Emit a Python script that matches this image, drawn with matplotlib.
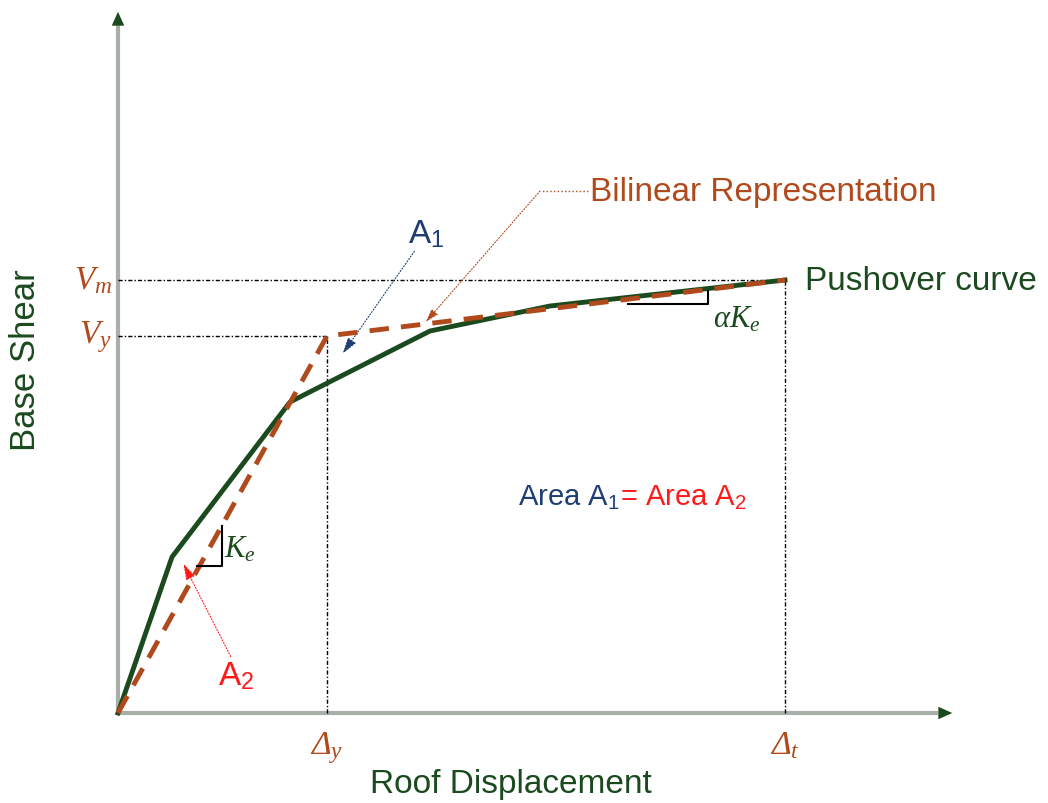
import matplotlib
matplotlib.use("Agg")
import matplotlib.pyplot as plt

plt.rcParams['font.family'] = ['Liberation Sans', 'DejaVu Sans']
# Times-like italic for all math symbols (also the capital Delta)
plt.rcParams['mathtext.fontset'] = 'custom'
plt.rcParams['mathtext.rm'] = 'Liberation Serif:italic'
plt.rcParams['mathtext.it'] = 'Liberation Serif:italic'

# pushover curve (roof displacement, base shear) - arbitrary units
push_x = [0, 5.4, 17.2, 31.2, 43.2, 66.7]
push_y = [0, 15.6, 31.1, 38.2, 40.7, 43.3]

# bilinear idealisation
bil_x = [0, 20.9, 66.7]
bil_y = [0, 37.7, 43.3]

dy, dt = bil_x[1], bil_x[2]
vy, vm = bil_y[1], bil_y[2]

green = '#1b4a1e'
brown = '#b04a1c'
navy = '#1f3f73'
red = '#ff1a1a'
gray = '#a8aea8'

fig = plt.figure(figsize=(10.48, 8.04), dpi=100)
ax = fig.add_axes([0, 0, 1, 1])
ax.set_xlim(-11.8, 93.0)
ax.set_ylim(-9.0, 71.4)
ax.axis('off')

# axes with arrow heads
ax.plot([0, 82.0], [0, 0], color=gray, lw=3, solid_capstyle='butt')
ax.plot([0, 0], [0, 68.8], color=gray, lw=3, solid_capstyle='butt')
ax.annotate('', xy=(83.7, 0), xytext=(81.5, 0),
            arrowprops=dict(arrowstyle='-|>,head_width=0.45,head_length=1.0',
                            color=green, lw=0))
ax.annotate('', xy=(0, 70.4), xytext=(0, 68.4),
            arrowprops=dict(arrowstyle='-|>,head_width=0.45,head_length=1.0',
                            color=green, lw=0))

# reference lines
ref = dict(color='black', lw=1.0, ls=(0, (3, 1.5, 1, 1.5)))
ax.plot([0, dt], [vm, vm], **ref)
ax.plot([dt, dt], [0, vm], **ref)
ax.plot([0, dy], [vy, vy], **ref)
ax.plot([dy, dy], [0, vy], **ref)

# curves
ax.plot(push_x, push_y, color=green, lw=3.5, zorder=3)
ax.plot(bil_x, bil_y, color=brown, lw=3.5, ls=(0, (4, 2.5)), zorder=4)

# slope markers
ax.plot([7.9, 10.4, 10.4], [14.7, 14.7, 18.7], color='black', lw=1.5, zorder=5)
ax.plot([51.0, 59.0, 59.0], [40.9, 40.9, 42.2], color='black', lw=1.5, zorder=5)
ax.text(10.6, 16.4, r'$K_e$', color=green, fontsize=22, va='center', ha='left')
ax.text(59.5, 39.4, r'$\alpha K_e$', color=green, fontsize=22, va='center', ha='left')

# axis value labels
ax.text(-0.6, vm, r'$V_m$', color=brown, fontsize=24, ha='right', va='center')
ax.text(-0.6, vy, r'$V_y$', color=brown, fontsize=24, ha='right', va='center')
ax.text(dy, -1.6, r'$\Delta_y$', color=brown, fontsize=24, ha='center', va='top')
ax.text(dt, -1.6, r'$\Delta_t$', color=brown, fontsize=24, ha='center', va='top')

# axis titles
ax.text(-9.3, 35.4, 'Base Shear', color=green, fontsize=25, rotation=90,
        ha='center', va='center')
ax.text(39.3, -7.1, 'Roof Displacement', color=green, fontsize=24,
        ha='center', va='center')

# annotations
ax.text(68.7, 43.2, 'Pushover curve', color=green, fontsize=24,
        ha='left', va='center')
ax.text(47.2, 52.2, 'Bilinear Representation', color=brown, fontsize=24,
        ha='left', va='center')
ax.plot([47.0, 42.2], [52.2, 52.2], color=brown, lw=1, ls=':')
ax.annotate('', xy=(30.6, 38.9), xytext=(42.2, 52.2),
            arrowprops=dict(arrowstyle='-|>,head_width=0.25,head_length=0.8',
                            color=brown, lw=0.8, ls=':', shrinkA=0))
ax.text(29.0, 48.0, r'A$_\mathregular{1}$', color=navy, fontsize=24,
        ha='left', va='center')
ax.annotate('', xy=(22.3, 35.7), xytext=(29.8, 46.4),
            arrowprops=dict(arrowstyle='-|>,head_width=0.3,head_length=1.0',
                            color=navy, lw=0.8, ls=':'))
ax.text(10.0, 3.8, r'A$_\mathregular{2}$', color=red, fontsize=24,
        ha='left', va='center')
ax.annotate('', xy=(6.4, 15.2), xytext=(11.4, 5.4),
            arrowprops=dict(arrowstyle='-|>,head_width=0.3,head_length=1.0',
                            color=red, lw=0.8, ls=':'))

t1 = ax.text(40.0, 21.6, r'Area A$_\mathregular{1}$', color=navy, fontsize=21,
             ha='left', va='center')
ax.annotate(r'= Area A$_\mathregular{2}$', xy=(1, 0.5), xycoords=t1,
            color=red, fontsize=21, ha='left', va='center')

fig.savefig('out.png', dpi=100, facecolor='white')
